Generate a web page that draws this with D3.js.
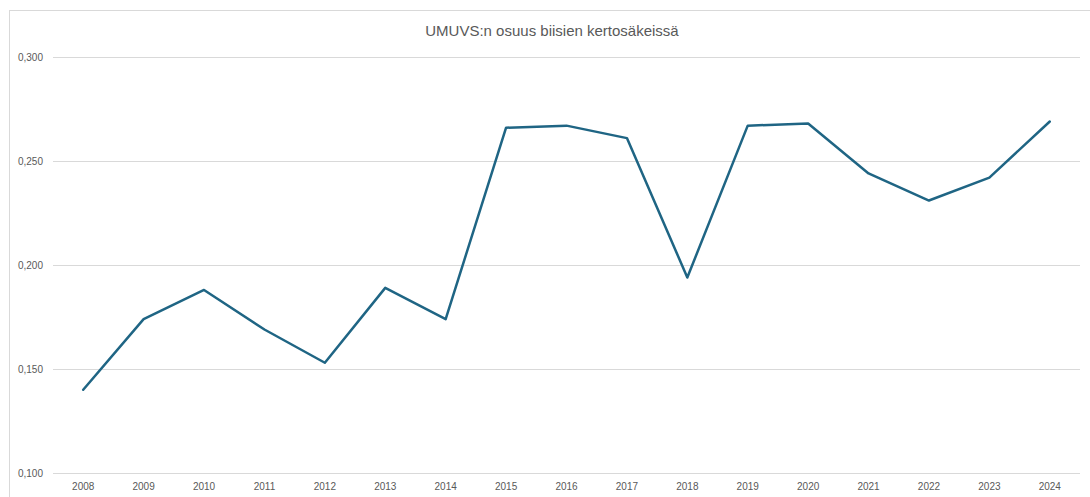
<!DOCTYPE html>
<html>
<head>
<meta charset="utf-8">
<script src="https://cdn.jsdelivr.net/npm/d3@7"></script>
<style>
  body { margin: 0; background: #fff; }
  svg text { font-family: "Liberation Sans", Arial, sans-serif; fill: #595959; }
</style>
</head>
<body>
<div id="chart"></div>
<script>
var years = ['2008', '2009', '2010', '2011', '2012', '2013', '2014', '2015', '2016',
    '2017', '2018', '2019', '2020', '2021', '2022', '2023', '2024'];
var shares = [0.140, 0.174, 0.188, 0.169, 0.153, 0.189, 0.174, 0.266, 0.267,
    0.261, 0.194, 0.267, 0.268, 0.244, 0.231, 0.242, 0.269];
var yTicks = [0.100, 0.150, 0.200, 0.250, 0.300];
var title = 'UMUVS:n osuus biisien kertosäkeissä';

var width = 1090,
    height = 497;

var margin = { top: 57, right: 10, bottom: 24, left: 53 };

var svg = d3.select('#chart').append('svg')
    .attr('width', width)
    .attr('height', height);

// chart area frame
svg.append('rect')
    .attr('x', 9.5).attr('y', 10.5)
    .attr('width', 1100).attr('height', 500)
    .attr('fill', 'none')
    .attr('stroke', '#d9d9d9');

svg.append('text')
    .attr('x', 552).attr('y', 36)
    .attr('text-anchor', 'middle')
    .attr('font-size', 15)
    .text(title);

var x = d3.scaleBand()
    .domain(years)
    .range([margin.left, width - margin.right]);

var y = d3.scaleLinear()
    .domain([0.1, 0.3])
    .range([height - margin.bottom, margin.top]);

var fmt = function (d) { return d3.format('.3f')(d).replace('.', ','); };

var yAxis = d3.axisLeft(y)
    .tickValues(yTicks)
    .tickFormat(fmt)
    .tickSize(-(width - margin.left - margin.right))
    .tickPadding(10);

var gy = svg.append('g')
    .attr('transform', 'translate(' + margin.left + ',0)')
    .call(yAxis);
gy.select('.domain').remove();
gy.selectAll('.tick line').attr('stroke', '#d9d9d9').attr('stroke-width', 1);
gy.selectAll('.tick text').attr('font-size', 10).attr('fill', '#595959');

var xAxis = d3.axisBottom(x)
    .tickSize(0)
    .tickPadding(10);

var gx = svg.append('g')
    .attr('transform', 'translate(0,' + (height - margin.bottom) + ')')
    .call(xAxis);
gx.select('.domain').remove();
gx.selectAll('.tick text').attr('font-size', 10).attr('fill', '#595959');

var line = d3.line()
    .x(function (d, i) { return x(years[i]) + x.bandwidth() / 2; })
    .y(function (d) { return y(d); });

svg.append('path')
    .datum(shares)
    .attr('d', line)
    .attr('fill', 'none')
    .attr('stroke', '#1f6584')
    .attr('stroke-width', 2.5)
    .attr('stroke-linejoin', 'round')
    .attr('stroke-linecap', 'round');
</script>
</body>
</html>
